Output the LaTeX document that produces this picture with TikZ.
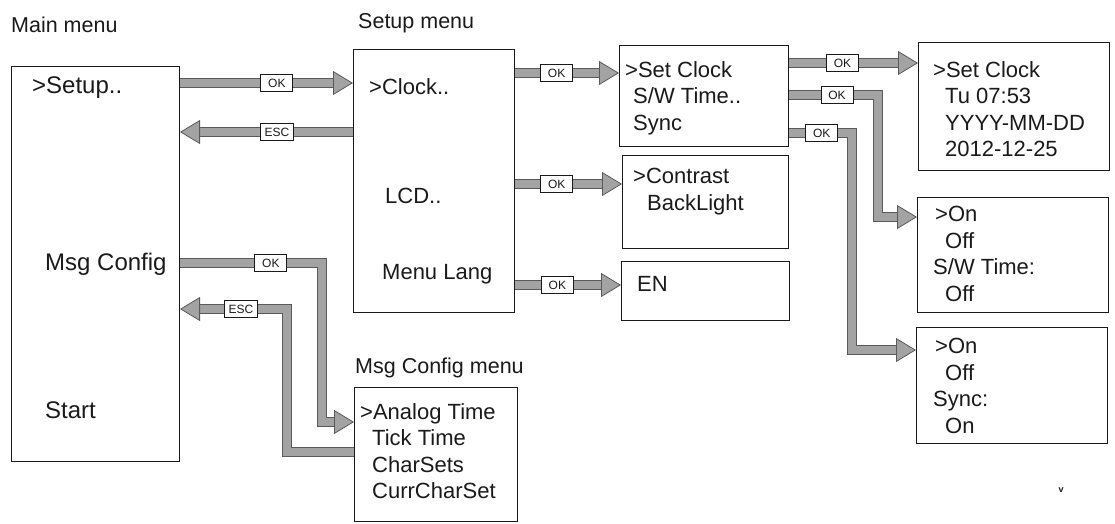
\documentclass[tikz,border=0pt]{standalone}
\usepackage{fontspec}
\setmainfont{Liberation Sans}
\usetikzlibrary{arrows.meta}
\definecolor{arrow-gray}{HTML}{A3A3A3}
\definecolor{arrow-edge}{HTML}{5A5A5A}
\definecolor{jet}{HTML}{1A1A1A}

\begin{document}
\begin{tikzpicture}[x=1pt, y=-1pt,
    every node/.style={font=\fontsize{22}{26.5}\selectfont, inner sep=0pt, text=jet},
    menubox/.style={draw=jet, line width=1pt, anchor=north west},
    item/.style={anchor=north west, align=left, yshift=16pt},
    mainitem/.style={item, font=\fontsize{24}{28}\selectfont, yshift=1.4pt},
    caption/.style={anchor=west, font=\fontsize{21.5}{24}\selectfont},
    key/.style={draw=jet, fill=white, line width=0.8pt, font=\fontsize{12}{12}\selectfont,
      inner xsep=4pt, minimum width=32pt, minimum height=17pt},
    menuarrow/.style={line width=8.5pt, draw=arrow-gray,
      -{Triangle[width=24pt, length=20pt, line width=0.8pt, fill=arrow-gray, color=arrow-edge]},
      preaction={draw=arrow-edge, line width=10.5pt, shorten >=18pt, -}}]
    \useasboundingbox (0,0) rectangle (1115,523);

    % menus
    \node[menubox, minimum width=168pt, minimum height=395pt] (main) at (11,66) {};
    \node[menubox, minimum width=161pt, minimum height=263pt] (setup) at (353,49) {};
    \node[menubox, minimum width=169pt, minimum height=101pt] (clock) at (619,45) {};
    \node[menubox, minimum width=166pt, minimum height=93pt] (lcd) at (622,155) {};
    \node[menubox, minimum width=168pt, minimum height=59pt] (lang) at (621,261) {};
    \node[menubox, minimum width=163pt, minimum height=134pt] (msgcfg) at (354,387) {};
    \node[menubox, minimum width=191pt, minimum height=128pt] (setclock) at (918,42) {};
    \node[menubox, minimum width=191pt, minimum height=115pt] (swtime) at (917,197) {};
    \node[menubox, minimum width=191pt, minimum height=116pt] (sync) at (916,327) {};

    \node[caption] (mainlbl) at (11,25) {Main menu};
    \node[caption] (setuplbl) at (358,23) {Setup menu};
    \node[caption] (msglbl) at (355,368) {Msg Config menu};

    % entries
    \node[mainitem] (mSetup) at (32,94) {>Setup..};
    \node[mainitem] (mMsg) at (45,270) {Msg Config};
    \node[mainitem] (mStart) at (45,419) {Start};
    \node[item] (sClock) at (369,94) {>Clock..};
    \node[item] (sLcd) at (385,204) {LCD..};
    \node[item] (sLang) at (382,280) {Menu Lang};
    \node[item] (cList) at (625,77) {>Set Clock\\\hspace*{8pt}S/W Time..\\\hspace*{8pt}Sync};
    \node[item] (lList) at (633,184) {>Contrast\\\hspace*{14pt}BackLight};
    \node[item] (langList) at (637,292) {EN};
    \node[item] (msgList) at (360,419) {>Analog Time\\\hspace*{12pt}Tick Time\\\hspace*{12pt}CharSets\\\hspace*{12pt}CurrCharSet};
    \node[item] (scList) at (933,77) {>Set Clock\\\hspace*{12pt}Tu 07:53\\\hspace*{12pt}YYYY-MM-DD\\\hspace*{12pt}2012-12-25};
    \node[item] (swList) at (935,222) {>On\\\hspace*{10pt}Off\\\hspace*{-2pt}S/W Time:\\\hspace*{10pt}Off};
    \node[item] (syList) at (935,354) {>On\\\hspace*{10pt}Off\\\hspace*{-2pt}Sync:\\\hspace*{10pt}On};
    \node (mark) at (1061,490) {\fontsize{9}{9}\selectfont\bfseries v};

    % arrow rows and bends
    \coordinate (rowSetupOk) at (0,83);
    \coordinate (rowSetupEsc) at (0,132);
    \coordinate (rowClock) at (0,73);
    \coordinate (rowLcd) at (0,184);
    \coordinate (rowLang) at (0,285);
    \coordinate (rowSetClock) at (0,63);
    \coordinate (rowSw) at (0,95);
    \coordinate (bendSw) at (878,217);
    \coordinate (rowSync) at (0,133);
    \coordinate (bendSync) at (852,350);
    \coordinate (rowMsgOk) at (0,263);
    \coordinate (bendMsgOk) at (322,422);
    \coordinate (rowMsgEsc) at (0,452);
    \coordinate (bendMsgEsc) at (287,309);

    \draw[menuarrow] (main.east |- rowSetupOk) -- node[key, pos=0.56] {OK} (setup.west |- rowSetupOk);
    \draw[menuarrow] (setup.west |- rowSetupEsc) -- node[key, pos=0.44] {ESC} (main.east |- rowSetupEsc);
    \draw[menuarrow] (setup.east |- rowClock) -- node[key, pos=0.4] {OK} (clock.west |- rowClock);
    \draw[menuarrow] (setup.east |- rowLcd) -- node[key, pos=0.39] {OK} (lcd.west |- rowLcd);
    \draw[menuarrow] (setup.east |- rowLang) -- node[key, pos=0.4] {OK} (lang.west |- rowLang);
    \draw[menuarrow] (clock.east |- rowSetClock) -- node[key, pos=0.415] {OK} (setclock.west |- rowSetClock);
    \draw[menuarrow] (clock.east |- rowSw) -| node[key, pos=0.27] {OK} (bendSw) -- (swtime.west |- bendSw);
    \draw[menuarrow] (clock.east |- rowSync) -| node[key, pos=0.26] {OK} (bendSync) -- (sync.west |- bendSync);
    \draw[menuarrow] (main.east |- rowMsgOk) -| node[key, pos=0.32] {OK} (bendMsgOk) -- (msgcfg.west |- bendMsgOk);
    \draw[menuarrow] (msgcfg.west |- rowMsgEsc) -| (bendMsgEsc) -- node[key, pos=0.43] {ESC} (main.east |- bendMsgEsc);
\end{tikzpicture}
\end{document}
